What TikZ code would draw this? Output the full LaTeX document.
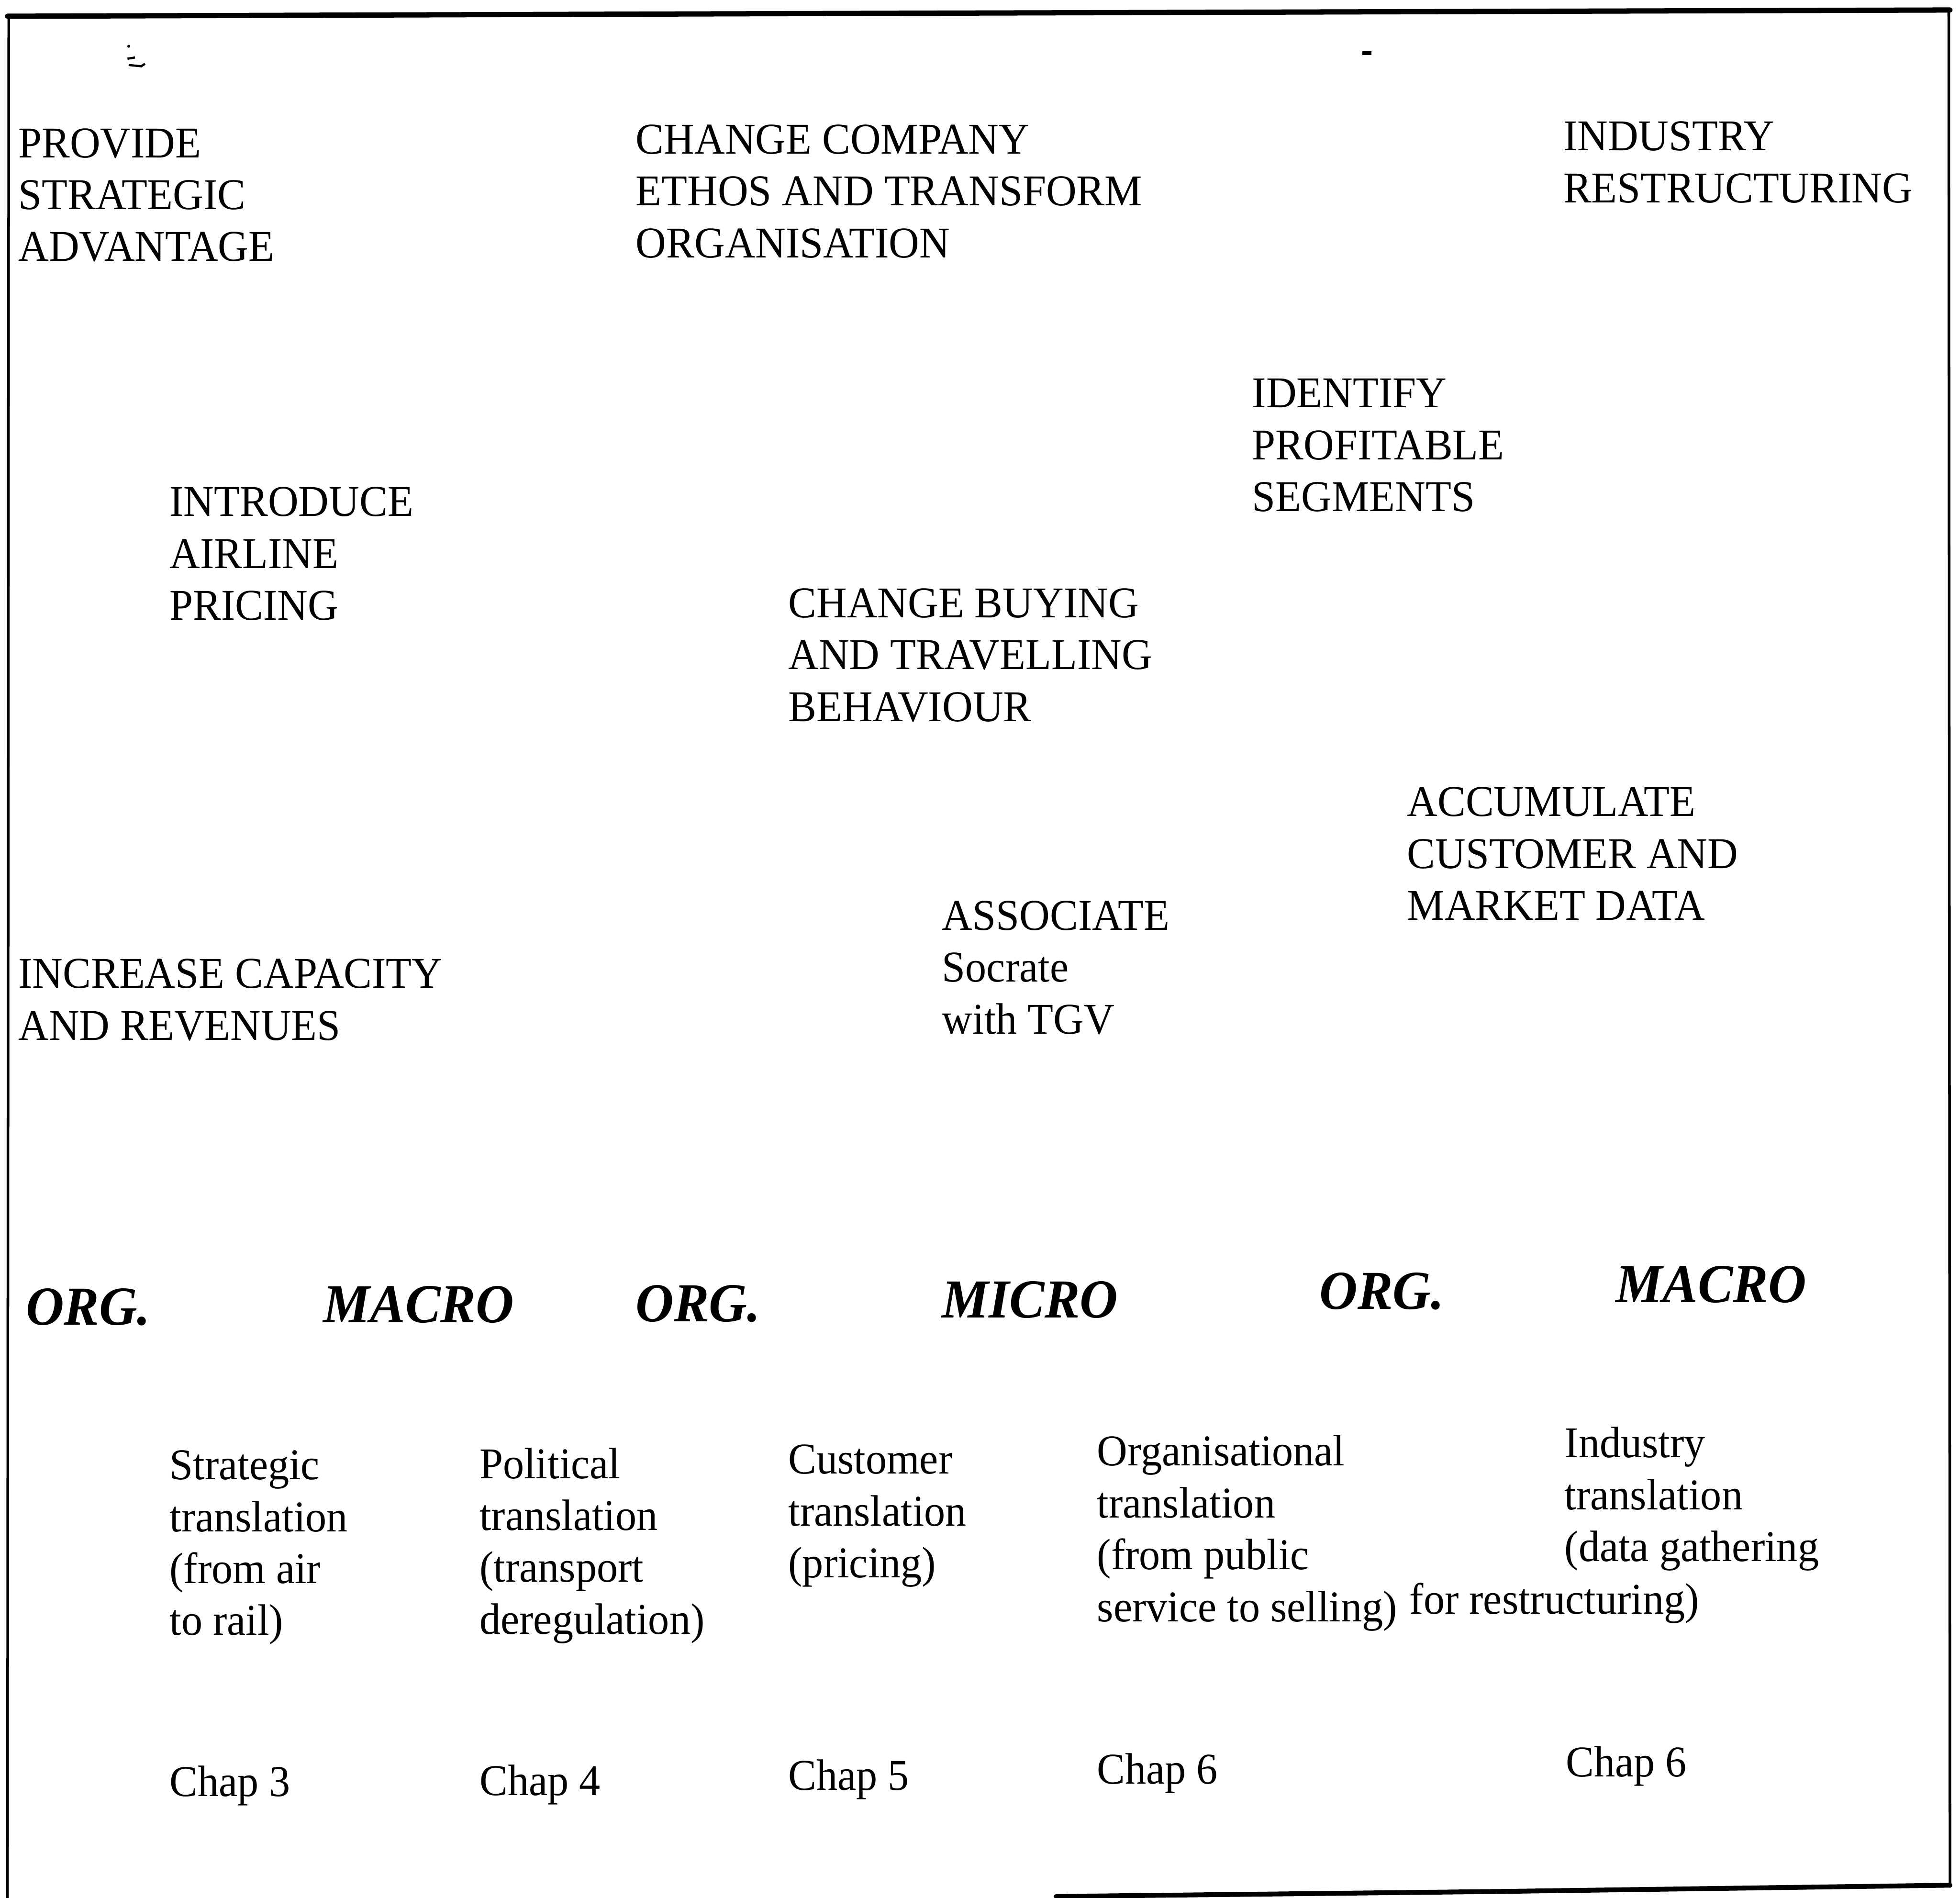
\documentclass[tikz,border=0pt]{standalone}
\usepackage{fontspec}
\setmainfont[FakeStretch=0.96]{Liberation Serif}
\begin{document}
\begin{tikzpicture}[x=0.01cm,y=-0.01cm,
  lbl/.style={anchor=base west,inner sep=0pt,align=left,font=\fontsize{10}{11.8}\selectfont},
  lvl/.style={anchor=base west,inner sep=0pt,font=\fontsize{12.5}{14}\selectfont\bfseries\itshape},
  frame/.style={line cap=round,line join=round}]
\useasboundingbox (0,0) rectangle (1568,1518);
% frame of the figure
\draw[frame,line width=1.2pt] (6,13) -- (600,11) -- (1560,8);
\draw[frame,line width=0.6pt] (7,13) -- (6,1518);
\draw[frame,line width=0.6pt] (1559,8) -- (1560,1509);
\draw[frame,line width=1.1pt] (845,1517) -- (1200,1513) -- (1560,1508);
% small marks near the top edge
\fill (103,37) circle (1.2);
\draw[line width=0.5pt] (102,47) -- (108,46) (103,52) -- (113,53) -- (116,51);
\fill (1090,41) rectangle (1097,44);
% aims (each node is placed at the baseline of its last line)
\node[lbl] (provide) at (14,209) {PROVIDE\\STRATEGIC\\ADVANTAGE};
\node[lbl] (ethos) at (508,206) {CHANGE COMPANY\\ETHOS AND TRANSFORM\\ORGANISATION};
\node[lbl] (industry) at (1250,162) {INDUSTRY\\RESTRUCTURING};
\node[lbl] (segments) at (1001,409) {IDENTIFY\\PROFITABLE\\SEGMENTS};
\node[lbl] (airline) at (135,496) {INTRODUCE\\AIRLINE\\PRICING};
\node[lbl] (buying) at (630,577) {CHANGE BUYING\\AND TRAVELLING\\BEHAVIOUR};
\node[lbl] (data) at (1125,736) {ACCUMULATE\\CUSTOMER AND\\MARKET DATA};
\node[lbl] (socrate) at (753,827) {ASSOCIATE\\Socrate\\with TGV};
\node[lbl] (capacity) at (14,832) {INCREASE CAPACITY\\AND REVENUES};
% levels
\node[lvl] (org1) at (20,1060) {ORG.};
\node[lvl] (macro1) at (258,1058) {MACRO};
\node[lvl] (org2) at (508,1057) {ORG.};
\node[lvl] (micro) at (753,1054) {MICRO};
\node[lvl] (org3) at (1055,1047) {ORG.};
\node[lvl] (macro2) at (1292,1042) {MACRO};
% translations
\node[lbl] (strat) at (135,1308) {Strategic\\translation\\(from air\\to rail)};
\node[lbl] (polit) at (383,1307) {Political\\translation\\(transport\\deregulation)};
\node[lbl] (cust) at (630,1262) {Customer\\translation\\(pricing)};
\node[lbl] (orgt) at (877,1297) {Organisational\\translation\\(from public\\service to selling)};
\node[lbl] (indt) at (1251,1249) {Industry\\translation\\(data gathering};
\node[lbl] (indt2) at (1127,1291) {for restructuring)};
% chapters
\node[lbl] (ch3) at (135,1437) {Chap 3};
\node[lbl] (ch4) at (383,1436) {Chap 4};
\node[lbl] (ch5) at (630,1432) {Chap 5};
\node[lbl] (ch6a) at (877,1427) {Chap 6};
\node[lbl] (ch6b) at (1252,1421) {Chap 6};
\end{tikzpicture}
\end{document}
